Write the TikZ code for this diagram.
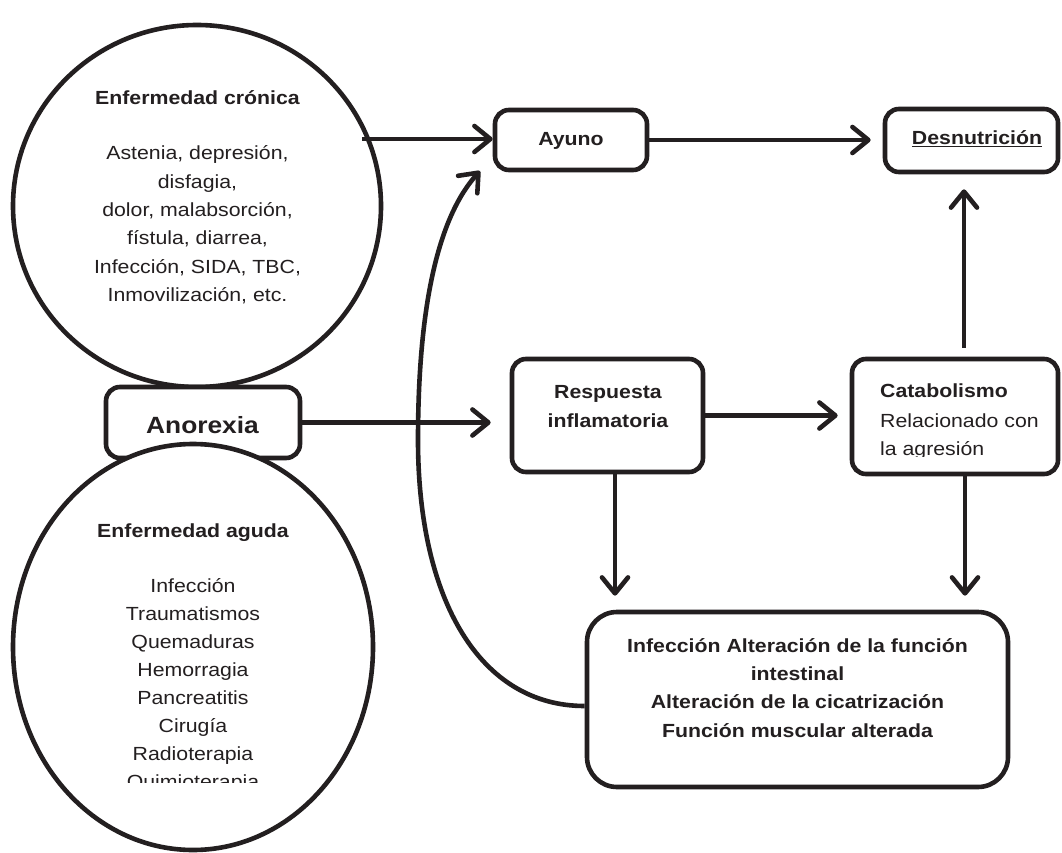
\documentclass[tikz,border=0pt]{standalone}
\usepackage{fontspec}
\setmainfont{Liberation Sans}[FakeStretch=1.12]
\usetikzlibrary{arrows.meta,shapes.geometric}
\definecolor{ink}{HTML}{231F20}
\begin{document}
\begin{tikzpicture}[x=1pt,y=-1pt,
  box/.style={draw=ink, fill=white, rounded corners=14pt, line width=4.6pt, inner sep=0pt},
  bigbox/.style={box, rounded corners=30pt},
  oval/.style={draw=ink, fill=white, ellipse, line width=4.6pt, inner sep=0pt},
  txt/.style={font=\fontsize{19}{28.3}\selectfont, text=ink, inner sep=0pt, anchor=base},
  btxt/.style={txt, font=\fontsize{19}{28.3}\selectfont\bfseries},
  ltxt/.style={txt, anchor=base west},
  arr/.style={draw=ink, line width=4.6pt, -{Straight Barb[length=16pt,width=26pt,round]}}
]
\useasboundingbox (0,0) rectangle (1062,853);
\fill[white] (0,0) rectangle (1062,853);

% ovals and Anorexia box
\node[oval, minimum width=368pt, minimum height=362pt] (cron) at (197,206) {};
\node[box, minimum width=194pt, minimum height=71pt] (anor) at (203,422.5) {};
\node[oval, minimum width=360pt, minimum height=406pt] (aguda) at (193,647) {};
\node[txt, font=\fontsize{23.5}{28}\selectfont\bfseries] (tanor) at (202.5,433) {Anorexia};

% boxes
\node[box, minimum width=152pt, minimum height=60pt] (ayuno) at (571,140) {};
\node[box, minimum width=173pt, minimum height=63pt] (desn) at (971.5,140.5) {};
\node[box, minimum width=191pt, minimum height=113pt] (resp) at (607.5,415.5) {};
\node[box, minimum width=206pt, minimum height=115pt] (cat) at (955,416.5) {};
\node[bigbox, minimum width=421pt, minimum height=175pt] (inf) at (797.5,699.5) {};

% texts
\node[btxt] (tcron) at (197.5,105) {Enfermedad crónica};
\foreach \t [count=\i] in {{Astenia, depresión,},{disfagia,},{dolor, malabsorción,},{fístula, diarrea,},{Infección, SIDA, TBC,},{Inmovilización, etc.}}
  \node[txt] (tc\i) at (197.5,{131.7+28.3*\i}) {\t};

\node[btxt] (tag) at (193,537) {Enfermedad aguda};
\begin{scope}
  \clip (0,0) rectangle (1062,782);
  \foreach \t [count=\i] in {Infección,Traumatismos,Quemaduras,Hemorragia,Pancreatitis,Cirugía,Radioterapia,Quimioterapia}
    \node[txt] (ta\i) at (193,{564+28*\i}) {\t};
\end{scope}

\node[btxt] (tay) at (571,146) {Ayuno};
\node[btxt] (tdes) at (977,145) {\underline{Desnutrición}};
\node[btxt] (tr1) at (608,398) {Respuesta};
\node[btxt] (tr2) at (608,427) {inflamatoria};
\node[ltxt, font=\fontsize{19}{28.3}\selectfont\bfseries] (tk1) at (880,397) {Catabolismo};
\node[ltxt] (tk2) at (880,427) {Relacionado con};
\begin{scope}
  \clip (0,0) rectangle (1062,456);
  \node[ltxt] (tk3) at (880,455) {la agresión};
\end{scope}
\node[btxt] (ti1) at (797.5,652) {Infección Alteración de la función};
\node[btxt] (ti2) at (797.5,680) {intestinal};
\node[btxt] (ti3) at (797.5,708) {Alteración de la cicatrización};
\node[btxt] (ti4) at (797.5,737) {Función muscular alterada};

% connectors
\coordinate (c1) at (362,139);
\draw[arr] (c1) -- (c1 -| ayuno.west);
\draw[arr, shorten >=12pt] (ayuno.east) -- (ayuno.east -| desn.west);
\draw[arr, shorten >=19pt] (anor.east) -- (anor.east -| resp.west);
\draw[arr, shorten >=12pt] (resp.east) -- (resp.east -| cat.west);
\coordinate (kx) at (964,0);
\draw[arr, shorten <=9pt, shorten >=15pt] (cat.north -| kx) -- (desn.south -| kx);
\coordinate (rx) at (615,0);
\draw[arr, shorten >=14pt] (resp.south -| rx) -- (inf.north -| rx);
\coordinate (kx2) at (965,0);
\draw[arr, shorten >=14pt] (cat.south -| kx2) -- (inf.north -| kx2);
\coordinate (ct) at (480,171);
\coordinate (cm) at (418,440);
\draw[arr] ([yshift=-6.5pt]inf.west) .. controls (480,706) and (418,600) .. (cm)
   .. controls (418,300) and (440,215) .. (ct);
\end{tikzpicture}
\end{document}
